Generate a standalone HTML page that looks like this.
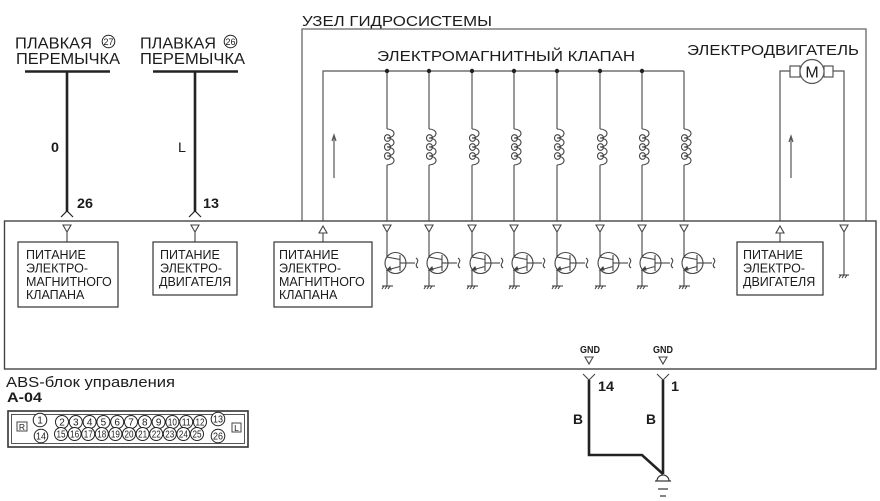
<!DOCTYPE html>
<html><head><meta charset="utf-8"><style>
html,body{margin:0;padding:0;background:#fff;}
svg{display:block;}
text{font-family:"Liberation Sans","DejaVu Sans",sans-serif;fill:#1c1c1c;}
.b{font-weight:bold;}
</style></head><body>
<svg width="880" height="501" viewBox="0 0 880 501" xmlns="http://www.w3.org/2000/svg">
<defs>
<g id="coil" stroke="#444" stroke-width="1.1" fill="none">
<path d="M0,129 a7,4.5 0 0 1 0,9 a7,4.5 0 0 1 0,9 a7,4.5 0 0 1 0,9 a7,4.5 0 0 1 0,9"/>
<ellipse cx="0.5" cy="138" rx="3" ry="3.3"/><ellipse cx="0.5" cy="147" rx="3" ry="3.3"/><ellipse cx="0.5" cy="156" rx="3" ry="3.3"/>
</g>
<g id="tr" stroke="#444" stroke-width="1.1" fill="none">
<polygon points="-4,225 4,225 0,232"/><path d="M0,232 V257 L13,259.5 M13,266.5 L0,270 V286"/><line x1="13" y1="255" x2="13" y2="271"/><circle cx="8.5" cy="263" r="10.5"/><line x1="13" y1="263" x2="28" y2="263"/><path d="M29,258 q3,2 1,5 q-2,3 1,5"/><line x1="-5" y1="286" x2="6" y2="286"/><path d="M-3,286 l-2,3 M0,286 l-2,3 M3,286 l-2,3"/><path d="M3,267 l-3,3 l4,0 z" fill="#444"/>
</g>
</defs>
<!-- top-left fuse labels -->
<text x="15" y="48.5" font-size="16" textLength="77" lengthAdjust="spacingAndGlyphs">ПЛАВКАЯ</text>
<text x="16" y="64" font-size="16" textLength="104" lengthAdjust="spacingAndGlyphs">ПЕРЕМЫЧКА</text>
<circle cx="108.5" cy="41.5" r="6.3" fill="none" stroke="#222" stroke-width="1"/>
<text x="108.5" y="44.8" font-size="9" text-anchor="middle">27</text>
<text x="140" y="48.5" font-size="16" textLength="76" lengthAdjust="spacingAndGlyphs">ПЛАВКАЯ</text>
<text x="140" y="64" font-size="16" textLength="105" lengthAdjust="spacingAndGlyphs">ПЕРЕМЫЧКА</text>
<circle cx="230.5" cy="41.5" r="6.3" fill="none" stroke="#222" stroke-width="1"/>
<text x="230.5" y="44.8" font-size="9" text-anchor="middle">26</text>
<g stroke="#222" stroke-width="2.6" fill="none">
<line x1="25" y1="71.5" x2="110" y2="71.5"/>
<line x1="153" y1="71.5" x2="238" y2="71.5"/>
<line x1="67" y1="71.5" x2="67" y2="212"/>
<line x1="195" y1="71.5" x2="195" y2="212"/>
</g>
<g stroke="#222" stroke-width="1.2" fill="none">
<polyline points="61,217 67,211 73,217"/>
<polyline points="189,217 195,211 201,217"/>
</g>
<text x="51" y="152" font-size="14" class="b" textLength="8" lengthAdjust="spacingAndGlyphs">0</text>
<text x="77" y="208" font-size="14" class="b" textLength="16" lengthAdjust="spacingAndGlyphs">26</text>
<text x="178" y="152" font-size="14" textLength="8" lengthAdjust="spacingAndGlyphs">L</text>
<text x="203" y="208" font-size="14" class="b" textLength="16" lengthAdjust="spacingAndGlyphs">13</text>

<!-- hydraulic unit -->
<text x="302" y="26" font-size="15" textLength="190" lengthAdjust="spacingAndGlyphs">УЗЕЛ ГИДРОСИСТЕМЫ</text>
<polyline points="302,221 302,29 866,29 866,221" fill="none" stroke="#666" stroke-width="1.3"/>
<text x="377" y="61" font-size="15" textLength="258" lengthAdjust="spacingAndGlyphs">ЭЛЕКТРОМАГНИТНЫЙ КЛАПАН</text>
<text x="687" y="55" font-size="15" textLength="172" lengthAdjust="spacingAndGlyphs">ЭЛЕКТРОДВИГАТЕЛЬ</text>

<g stroke="#555" stroke-width="1.2" fill="none">
<polyline points="323,221 323,71 684,71"/>
<line x1="387" y1="71" x2="387" y2="129"/><line x1="387" y1="165" x2="387" y2="221"/>
<line x1="429" y1="71" x2="429" y2="129"/><line x1="429" y1="165" x2="429" y2="221"/>
<line x1="472" y1="71" x2="472" y2="129"/><line x1="472" y1="165" x2="472" y2="221"/>
<line x1="514" y1="71" x2="514" y2="129"/><line x1="514" y1="165" x2="514" y2="221"/>
<line x1="557" y1="71" x2="557" y2="129"/><line x1="557" y1="165" x2="557" y2="221"/>
<line x1="600" y1="71" x2="600" y2="129"/><line x1="600" y1="165" x2="600" y2="221"/>
<line x1="642" y1="71" x2="642" y2="129"/><line x1="642" y1="165" x2="642" y2="221"/>
<line x1="684" y1="71" x2="684" y2="129"/><line x1="684" y1="165" x2="684" y2="221"/>
<polyline points="780,221 780,71 790,71"/>
<polyline points="833,71 844,71 844,221"/>
<rect x="790" y="66" width="10" height="11"/>
<rect x="824" y="66" width="9" height="11"/>
<circle cx="812" cy="71.5" r="12" fill="#fff"/>
<line x1="334" y1="178" x2="334" y2="136"/>
<polyline points="332,141 334,135 336,141"/>
<line x1="791" y1="178" x2="791" y2="137"/>
<polyline points="789,142 791,136 793,142"/>
</g>
<text x="812" y="77.5" font-size="16" text-anchor="middle" fill="#333">M</text>
<g fill="#222">
<circle cx="387" cy="71" r="2.2"/><circle cx="429" cy="71" r="2.2"/><circle cx="472" cy="71" r="2.2"/>
<circle cx="514" cy="71" r="2.2"/><circle cx="557" cy="71" r="2.2"/><circle cx="600" cy="71" r="2.2"/>
<circle cx="642" cy="71" r="2.2"/>
</g>
<use href="#coil" x="387"/><use href="#coil" x="429"/><use href="#coil" x="472"/><use href="#coil" x="514"/>
<use href="#coil" x="557"/><use href="#coil" x="600"/><use href="#coil" x="642"/><use href="#coil" x="684"/>

<!-- ABS box -->
<rect x="4.5" y="221" width="871.5" height="148" fill="none" stroke="#444" stroke-width="1.4"/>

<g stroke="#444" stroke-width="1.1" fill="none">
<polygon points="63,225 71,225 67,232"/><line x1="67" y1="232" x2="67" y2="242"/>
<polygon points="191,225 199,225 195,232"/><line x1="195" y1="232" x2="195" y2="242"/>
<polygon points="840,225 848,225 844,232"/><line x1="844" y1="232" x2="844" y2="275"/>
<polygon points="319,233 327,233 323,226"/><line x1="323" y1="233" x2="323" y2="242"/>
<polygon points="776,233 784,233 780,226"/><line x1="780" y1="233" x2="780" y2="242"/>
<line x1="839" y1="275" x2="849" y2="275"/>
<path d="M841,275 l-2,3 M844,275 l-2,3 M847,275 l-2,3"/>
</g>

<use href="#tr" x="387"/><use href="#tr" x="429"/><use href="#tr" x="472"/><use href="#tr" x="514"/>
<use href="#tr" x="557"/><use href="#tr" x="600"/><use href="#tr" x="642"/><use href="#tr" x="684"/>

<g fill="none" stroke="#333" stroke-width="1.2">
<rect x="18" y="242" width="100" height="65"/>
<rect x="153" y="242" width="84" height="53"/>
<rect x="274" y="242" width="98" height="65"/>
<rect x="737" y="242" width="86" height="53"/>
</g>
<g font-size="12.5">
<text x="26" y="259">ПИТАНИЕ</text><text x="26" y="272.5">ЭЛЕКТРО-</text><text x="26" y="286">МАГНИТНОГО</text><text x="26" y="299">КЛАПАНА</text>
<text x="160" y="259">ПИТАНИЕ</text><text x="160" y="272.5">ЭЛЕКТРО-</text><text x="159" y="286">ДВИГАТЕЛЯ</text>
<text x="279" y="259">ПИТАНИЕ</text><text x="279" y="272.5">ЭЛЕКТРО-</text><text x="279" y="286">МАГНИТНОГО</text><text x="279" y="299">КЛАПАНА</text>
<text x="743" y="259">ПИТАНИЕ</text><text x="743" y="272.5">ЭЛЕКТРО-</text><text x="743" y="286">ДВИГАТЕЛЯ</text>
</g>

<!-- GND -->
<text x="590" y="353" font-size="10.5" class="b" text-anchor="middle" textLength="20" lengthAdjust="spacingAndGlyphs">GND</text>
<text x="663" y="353" font-size="10.5" class="b" text-anchor="middle" textLength="20" lengthAdjust="spacingAndGlyphs">GND</text>
<g stroke="#444" stroke-width="1.1" fill="none">
<polygon points="585,357 593,357 589,364"/>
<polygon points="659,357 667,357 663,364"/>
<polyline points="583,374 589,380 595,374"/>
<polyline points="657,374 663,380 669,374"/>
</g>
<g stroke="#222" stroke-width="2.6" fill="none">
<polyline points="589,380 589,455 642,455 663,474"/>
<line x1="663" y1="380" x2="663" y2="474"/>
</g>
<g stroke="#333" stroke-width="1.2" fill="none">
<path d="M657,481 a6,6 0 0 1 12,0"/>
<line x1="655" y1="481" x2="671" y2="481"/>
<line x1="658" y1="489" x2="668" y2="489"/>
<line x1="660" y1="496" x2="666" y2="496"/>
</g>
<text x="598" y="391" font-size="14" class="b" textLength="16" lengthAdjust="spacingAndGlyphs">14</text>
<text x="671" y="391" font-size="14" class="b" textLength="8" lengthAdjust="spacingAndGlyphs">1</text>
<text x="573" y="424" font-size="14" class="b" textLength="10" lengthAdjust="spacingAndGlyphs">B</text>
<text x="646" y="424" font-size="14" class="b" textLength="10" lengthAdjust="spacingAndGlyphs">B</text>

<!-- bottom-left connector -->
<text x="6" y="387" font-size="15" textLength="169" lengthAdjust="spacingAndGlyphs">ABS-блок управления</text>
<text x="7" y="402" font-size="14" class="b" textLength="35" lengthAdjust="spacingAndGlyphs">A-04</text>
<rect x="8" y="411" width="240" height="36" fill="none" stroke="#333" stroke-width="1.6"/>
<rect x="11.5" y="414.5" width="233" height="29" fill="none" stroke="#555" stroke-width="1"/>
<rect x="17" y="422" width="10" height="9" fill="none" stroke="#444" stroke-width="1"/>
<text x="22" y="430" font-size="8.5" text-anchor="middle">R</text>
<rect x="232" y="423" width="9" height="9" fill="none" stroke="#444" stroke-width="1"/>
<text x="236.5" y="431" font-size="8.5" text-anchor="middle">L</text>
<g fill="#fff" stroke="#222" stroke-width="1">
<circle cx="40" cy="420" r="6.8"/><circle cx="41" cy="436" r="6.8"/>
<circle cx="218" cy="419" r="6.8"/><circle cx="218" cy="436" r="6.8"/>
<circle cx="62" cy="422" r="6.5"/><circle cx="75.8" cy="422" r="6.5"/><circle cx="89.6" cy="422" r="6.5"/><circle cx="103.4" cy="422" r="6.5"/><circle cx="117.2" cy="422" r="6.5"/><circle cx="131" cy="422" r="6.5"/><circle cx="144.8" cy="422" r="6.5"/><circle cx="158.6" cy="422" r="6.5"/><circle cx="172.4" cy="422" r="6.5"/><circle cx="186.2" cy="422" r="6.5"/><circle cx="200" cy="422" r="6.5"/>
<circle cx="61" cy="434" r="6.5"/><circle cx="74.6" cy="434" r="6.5"/><circle cx="88.2" cy="434" r="6.5"/><circle cx="101.8" cy="434" r="6.5"/><circle cx="115.4" cy="434" r="6.5"/><circle cx="129" cy="434" r="6.5"/><circle cx="142.6" cy="434" r="6.5"/><circle cx="156.2" cy="434" r="6.5"/><circle cx="169.8" cy="434" r="6.5"/><circle cx="183.4" cy="434" r="6.5"/><circle cx="197" cy="434" r="6.5"/>
</g>
<g font-size="10" text-anchor="middle">
<text x="40" y="423.5">1</text><text x="41" y="439.5" textLength="10" lengthAdjust="spacingAndGlyphs">14</text>
<text x="218" y="422.5" textLength="10" lengthAdjust="spacingAndGlyphs">13</text><text x="218" y="439.5" textLength="10" lengthAdjust="spacingAndGlyphs">26</text>
<text x="62" y="425.5">2</text><text x="75.8" y="425.5">3</text><text x="89.6" y="425.5">4</text><text x="103.4" y="425.5">5</text><text x="117.2" y="425.5">6</text><text x="131" y="425.5">7</text><text x="144.8" y="425.5">8</text><text x="158.6" y="425.5">9</text>
<text x="172.4" y="425.5" textLength="9" lengthAdjust="spacingAndGlyphs">10</text><text x="186.2" y="425.5" textLength="9" lengthAdjust="spacingAndGlyphs">11</text><text x="200" y="425.5" textLength="9" lengthAdjust="spacingAndGlyphs">12</text>
<text x="61" y="437.5" textLength="9" lengthAdjust="spacingAndGlyphs">15</text><text x="74.6" y="437.5" textLength="9" lengthAdjust="spacingAndGlyphs">16</text><text x="88.2" y="437.5" textLength="9" lengthAdjust="spacingAndGlyphs">17</text><text x="101.8" y="437.5" textLength="9" lengthAdjust="spacingAndGlyphs">18</text><text x="115.4" y="437.5" textLength="9" lengthAdjust="spacingAndGlyphs">19</text><text x="129" y="437.5" textLength="9" lengthAdjust="spacingAndGlyphs">20</text><text x="142.6" y="437.5" textLength="9" lengthAdjust="spacingAndGlyphs">21</text><text x="156.2" y="437.5" textLength="9" lengthAdjust="spacingAndGlyphs">22</text><text x="169.8" y="437.5" textLength="9" lengthAdjust="spacingAndGlyphs">23</text><text x="183.4" y="437.5" textLength="9" lengthAdjust="spacingAndGlyphs">24</text><text x="197" y="437.5" textLength="9" lengthAdjust="spacingAndGlyphs">25</text>
</g>
</svg>
</body></html>
